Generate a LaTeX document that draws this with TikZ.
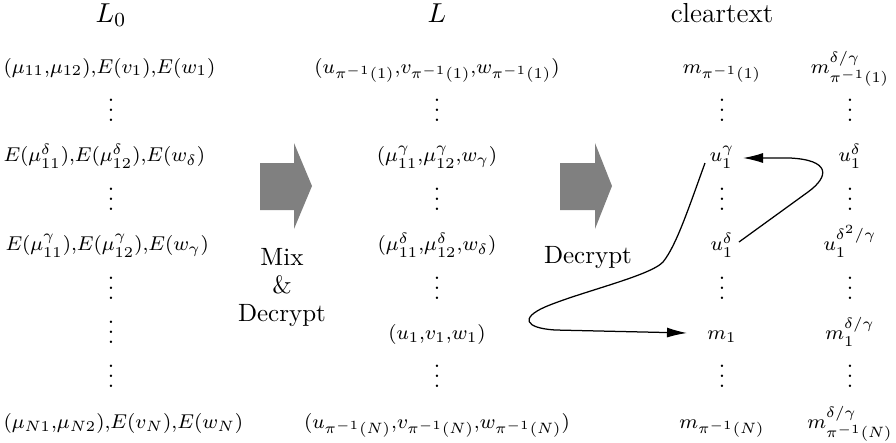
\documentclass[tikz,border=0pt]{standalone}
\usetikzlibrary{arrows.meta}
\begin{document}
\begin{tikzpicture}[x=0.4pt,y=-0.4pt,
  title/.style={font=\fontsize{11}{13}\selectfont, inner sep=0pt, anchor=base},
  entry/.style={font=\fontsize{8.5}{10}\selectfont, inner sep=0pt, anchor=base},
  lentry/.style={font=\fontsize{8.5}{10}\selectfont, inner sep=0pt, anchor=base west},
  dotsnode/.style={font=\small, inner sep=0pt, anchor=base},
  blockarrow/.style={fill=black!50},
  conn/.style={line width=0.5pt, -{Latex[length=8pt,width=4pt]}}]
\useasboundingbox (0,0) rectangle (896,442);

% titles
\node[title] (tL0) at (111,22) {$L_0$};
\node[title] (tL) at (437,22) {$L$};
\node[title] (tC) at (722,22) {cleartext};

% column L0
\node[lentry] (a0) at (3,73) {$(\mu_{11}{,}\mu_{12}){,}E(v_1){,}E(w_1)$};
\node[dotsnode] (a1) at (111,121.4) {$\vdots$};
\node[lentry] (a2) at (3,161.8) {$E(\mu^\delta_{11}){,}E(\mu^\delta_{12}){,}E(w_\delta)$};
\node[dotsnode] (a3) at (111,210.2) {$\vdots$};
\node[lentry] (a4) at (5,250.6) {$E(\mu^\gamma_{11}){,}E(\mu^\gamma_{12}){,}E(w_\gamma)$};
\node[dotsnode] (a5) at (111,299) {$\vdots$};
\node[dotsnode] (a6) at (111,343.4) {$\vdots$};
\node[dotsnode] (a7) at (111,387.8) {$\vdots$};
\node[lentry] (a8) at (3,428.2) {$(\mu_{N1}{,}\mu_{N2}){,}E(v_N){,}E(w_N)$};

% column L
\node[entry] (b0) at (437,73) {$(u_{\pi^{-1}(1)}{,}v_{\pi^{-1}(1)}{,}w_{\pi^{-1}(1)})$};
\node[dotsnode] (b1) at (437,121.4) {$\vdots$};
\node[entry] (b2) at (437,161.8) {$(\mu^\gamma_{11}{,}\mu^\gamma_{12}{,}w_\gamma)$};
\node[dotsnode] (b3) at (437,210.2) {$\vdots$};
\node[entry] (b4) at (437,250.6) {$(\mu^\delta_{11}{,}\mu^\delta_{12}{,}w_\delta)$};
\node[dotsnode] (b5) at (437,299) {$\vdots$};
\node[entry] (b6) at (437,339.4) {$(u_1{,}v_1{,}w_1)$};
\node[dotsnode] (b7) at (437,387.8) {$\vdots$};
\node[entry] (b8) at (437,428.2) {$(u_{\pi^{-1}(N)}{,}v_{\pi^{-1}(N)}{,}w_{\pi^{-1}(N)})$};

% column cleartext 1
\node[entry] (c0) at (722,73) {$m_{\pi^{-1}(1)}$};
\node[dotsnode] (c1) at (722,121.4) {$\vdots$};
\node[entry] (c2) at (722,161.8) {$u_1^\gamma$};
\node[dotsnode] (c3) at (722,210.2) {$\vdots$};
\node[entry] (c4) at (722,250.6) {$u_1^\delta$};
\node[dotsnode] (c5) at (722,299) {$\vdots$};
\node[entry] (c6) at (722,339.4) {$m_1$};
\node[dotsnode] (c7) at (722,387.8) {$\vdots$};
\node[entry] (c8) at (722,428.2) {$m_{\pi^{-1}(N)}$};

% column cleartext 2
\node[entry] (d0) at (850,73) {$m^{\delta/\gamma}_{\pi^{-1}(1)}$};
\node[dotsnode] (d1) at (850,121.4) {$\vdots$};
\node[entry] (d2) at (850,161.8) {$u_1^\delta$};
\node[dotsnode] (d3) at (850,210.2) {$\vdots$};
\node[entry] (d4) at (850,250.6) {$u_1^{\delta^2/\gamma}$};
\node[dotsnode] (d5) at (850,299) {$\vdots$};
\node[entry] (d6) at (850,339.4) {$m_1^{\delta/\gamma}$};
\node[dotsnode] (d7) at (850,387.8) {$\vdots$};
\node[entry] (d8) at (850,428.2) {$m^{\delta/\gamma}_{\pi^{-1}(N)}$};

% block arrows
\fill[blockarrow] (260,163) -- (294,163) -- (294,143) -- (312,186) -- (294,229) -- (294,210) -- (260,210) -- cycle;
\fill[blockarrow] (560,163) -- (595,163) -- (595,143) -- (612,186) -- (595,229) -- (595,210) -- (560,210) -- cycle;

% labels
\node[font=\fontsize{10}{11.2}\selectfont, align=center, inner sep=0pt] (mix) at (282,288) {Mix\\\&\\Decrypt};
\node[font=\normalsize, inner sep=0pt, anchor=base] (dec) at (588,263.5) {Decrypt};

% connectors
\draw[conn] ([shift={(-17,1.2)}]c2.base) .. controls (688,210) and (676,246) .. (663,262)
  .. controls (650,276) and (580,292) .. (545,307)
  .. controls (520,318) and (525,328) .. (555,330)
  -- ([shift={(-35,-6.4)}]c6.base);
\draw[conn] ([shift={(17,-8.6)}]c4.base) -- (808,192)
  .. controls (830,176) and (830,160) .. (790,158)
  -- ([shift={(21,-3.8)}]c2.base);
\end{tikzpicture}
\end{document}
